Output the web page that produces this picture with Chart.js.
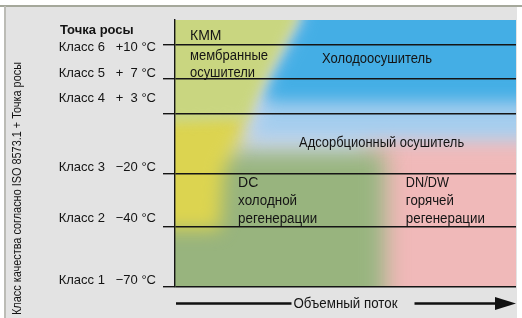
<!DOCTYPE html>
<html>
<head>
<meta charset="utf-8">
<script src="https://cdn.jsdelivr.net/npm/chart.js@4.4.1/dist/chart.umd.min.js"></script>
<style>
  html, body { margin: 0; padding: 0; background: #fff; }
  #wrap { width: 522px; height: 318px; position: relative; }
</style>
</head>
<body>
<div id="wrap"><canvas id="chart"></canvas></div>
<script>
// vertical scale: 0 = bottom of the field, 100 = top. horizontal: 0..100 = flow
const classLevels = [0, 22.5, 42.3, 64.8, 77.9, 90.6];
const labelLevels = [2.4, 25.5, 44.9, 70.6, 80.1, 89.9];
const classLabels = [
  "Класс 1   −70 °C",
  "Класс 2   −40 °C",
  "Класс 3   −20 °C",
  "Класс 4   +  3 °C",
  "Класс 5   +  7 °C",
  "Класс 6   +10 °C"
];

// zones of the dryer types (flow %, level)
const pinkZone = [{x: 56, y: -10}, {x: 115, y: -10}, {x: 115, y: 57}, {x: 56, y: 57}];
const greenZone = [{x: -10, y: -10}, {x: 61.6, y: -10}, {x: 61.6, y: 51}, {x: -10, y: 51}];
const yellowZone = [{x: -10, y: 21.5}, {x: 13.2, y: 21.5}, {x: 14.4, y: 43.8}, {x: 19.9, y: 56.9}, {x: 22, y: 66.3}, {x: -10, y: 66.3}];
const lightBlueZone = [{x: 22, y: 56}, {x: 115, y: 56}, {x: 115, y: 115}, {x: 38.4, y: 115}, {x: 37.5, y: 100}, {x: 28.2, y: 77.5}, {x: 23.8, y: 63.3}];
const blueZone = [{x: 26, y: 69.5}, {x: 115, y: 69.5}, {x: 115, y: 115}, {x: 38.2, y: 115}, {x: 37.3, y: 100}, {x: 28, y: 77.5}];
const membraneZone = [{x: -10, y: 115}, {x: 36.7, y: 115}, {x: 35.8, y: 100}, {x: 26.4, y: 77.5}, {x: 21.4, y: 63.3}, {x: -10, y: 60.7}];

const notes = [
  {text: "КММ", x: 4.4, y: 92.5, size: 14, w: 38},
  {text: "мембранные", x: 4.4, y: 85.0, size: 14, w: 78},
  {text: "осушители", x: 4.4, y: 78.5, size: 14, w: 65},
  {text: "Холодоосушитель", x: 43.1, y: 83.9, size: 14, w: 110},
  {text: "Адсорбционный осушитель", x: 36.4, y: 52.6, size: 14, w: 165},
  {text: "DC", x: 18.5, y: 37.5, size: 14, w: 21},
  {text: "холодной", x: 18.5, y: 30.7, size: 14, w: 59},
  {text: "регенерации", x: 18.5, y: 24.0, size: 14, w: 79},
  {text: "DN/DW", x: 67.7, y: 37.5, size: 14, w: 43},
  {text: "горячей", x: 67.7, y: 30.7, size: 14, w: 48},
  {text: "регенерации", x: 67.7, y: 24.0, size: 14, w: 79}
];

const zones = [
  {pts: pinkZone, color: "#f0b9b9", blur: 12},
  {pts: greenZone, color: "#98b47e", blur: 11},
  {pts: yellowZone, color: "#dcd450", blur: 9},
  {pts: lightBlueZone, color: "#a3cdee", blur: 9},
  {pts: blueZone, color: "#44aee5", blur: 8},
  {pts: membraneZone, color: "#c9d680", blur: 6}
];

const FONT = "'Liberation Sans', Arial, sans-serif";

const framePlugin = {
  id: "frame",
  beforeDraw(chart) {
    const {ctx, width, height, chartArea: a} = chart;
    ctx.save();
    ctx.fillStyle = "#ffffff";
    ctx.fillRect(0, 0, width, height);
    ctx.fillStyle = "#e3e3e3";
    ctx.fillRect(6, 6, 511, height - 6);
    ctx.fillStyle = "#a5a89b";
    ctx.fillRect(0, 5, width, 2);
    ctx.fillStyle = "#bcbcb6";
    ctx.fillRect(4, 6, 2, height - 6);
    ctx.fillStyle = "#d3d9ea";
    ctx.fillRect(a.left, a.top, a.right - a.left, a.bottom - a.top);
    ctx.restore();
  }
};

// soft edges of the zones
let drawOrder = [];
const blurPlugin = {
  id: "blur",
  beforeDatasetsDraw(chart) {
    drawOrder = chart.getSortedVisibleDatasetMetas().map(m => m.index).reverse();
    chart.ctx.filter = `blur(${chart.data.datasets[drawOrder[0]].blur}px)`;
  },
  afterDatasetDraw(chart, args) {
    const k = drawOrder.indexOf(args.index) + 1;
    chart.ctx.filter = k < drawOrder.length ? `blur(${chart.data.datasets[drawOrder[k]].blur}px)` : "none";
  },
  afterDatasetsDraw(chart) {
    chart.ctx.filter = "none";
  }
};

const notesPlugin = {
  id: "notes",
  afterDraw(chart) {
    const {ctx, chartArea: a} = chart;
    const xs = chart.scales.x, ys = chart.scales.y;
    ctx.save();
    ctx.fillStyle = "#141414";
    ctx.textBaseline = "alphabetic";
    ctx.textAlign = "left";
    for (const n of notes) {
      ctx.font = `${n.size}px ${FONT}`;
      ctx.fillText(n.text, xs.getPixelForValue(n.x), ys.getPixelForValue(n.y), n.w);
    }

    ctx.font = `bold 13px ${FONT}`;
    ctx.fillText("Точка росы", 60, 33.5, 78);

    // axis title, vertical
    ctx.save();
    ctx.translate(21, 315);
    ctx.rotate(-Math.PI / 2);
    ctx.font = `13px ${FONT}`;
    ctx.fillText("Класс качества согласно ISO 8573.1 + Точка росы", 0, 0, 253);
    ctx.restore();

    // flow arrow
    const label = "Объемный поток";
    ctx.font = `14px ${FONT}`;
    const tw = Math.min(ctx.measureText(label).width, 104);
    const cx = (a.left + a.right) / 2;
    const yA = 303.5;
    ctx.textAlign = "center";
    ctx.fillText(label, cx, 308, 104);
    ctx.strokeStyle = "#111";
    ctx.lineWidth = 2.6;
    ctx.beginPath();
    ctx.moveTo(a.left + 1, yA);
    ctx.lineTo(cx - tw / 2 - 2, yA);
    ctx.moveTo(cx + tw / 2 + 17, yA);
    ctx.lineTo(a.right - 19, yA);
    ctx.stroke();
    ctx.fillStyle = "#111";
    ctx.beginPath();
    ctx.moveTo(a.right - 21, yA - 6.5);
    ctx.lineTo(a.right, yA);
    ctx.lineTo(a.right - 21, yA + 6.5);
    ctx.closePath();
    ctx.fill();
    ctx.restore();
  }
};

new Chart(document.getElementById("chart"), {
  type: "line",
  data: {
    datasets: zones.map((z, i) => ({
      data: z.pts,
      backgroundColor: z.color,
      borderColor: "transparent",
      borderWidth: 0,
      pointRadius: 0,
      fill: "shape",
      tension: 0,
      order: zones.length - i,
      blur: z.blur
    }))
  },
  options: {
    responsive: true,
    maintainAspectRatio: false,
    animation: false,
    events: [],
    layout: {padding: {left: 0, right: 6, top: 20, bottom: 31}},
    plugins: {legend: {display: false}, tooltip: {enabled: false}},
    scales: {
      x: {type: "linear", min: 0, max: 100, display: false},
      y: {
        type: "linear", min: 0, max: 100, position: "left", weight: 0,
        afterBuildTicks: s => { s.ticks = classLevels.map(v => ({value: v})); },
        afterFit: s => { s.width = 12; },
        grid: {z: 1, color: "#151515", lineWidth: 1.4, tickLength: 12, drawTicks: true},
        border: {z: 1, display: true, color: "#151515", width: 1.4},
        ticks: {display: false}
      },
      y2: {
        type: "linear", min: 0, max: 100, position: "left", weight: 1,
        afterBuildTicks: s => { s.ticks = labelLevels.map(v => ({value: v})); },
        afterFit: s => { s.width = 163; },
        grid: {display: false, drawTicks: false},
        border: {display: false},
        ticks: {
          padding: 7, color: "#141414", autoSkip: false,
          font: {family: FONT, size: 13},
          callback: (v, i) => classLabels[i]
        }
      }
    }
  },
  plugins: [framePlugin, blurPlugin, notesPlugin]
});
</script>
</body>
</html>
